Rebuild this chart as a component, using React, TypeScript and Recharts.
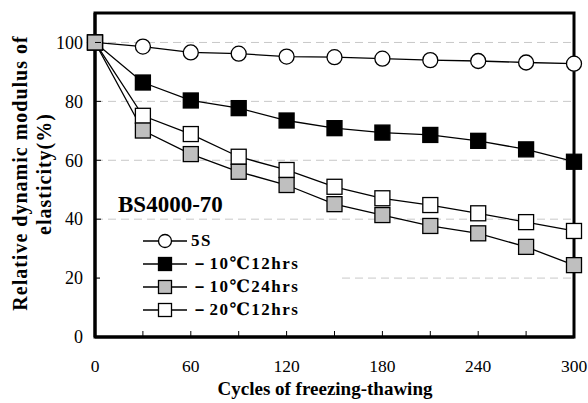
import { LineChart, Line, XAxis, YAxis, CartesianGrid, Legend, ReferenceArea } from 'recharts';

const cycles = [0, 30, 60, 90, 120, 150, 180, 210, 240, 270, 300];
const s5 = [100, 98.6, 96.6, 96.2, 95.2, 95.0, 94.5, 94.0, 93.7, 93.2, 92.8];
const m10h12 = [100, 86.4, 80.3, 77.7, 73.5, 70.9, 69.4, 68.6, 66.6, 63.7, 59.5];
const m20h12 = [100, 75.1, 68.9, 61.2, 56.7, 51.0, 47.1, 44.8, 42.0, 39.0, 36.0];
const m10h24 = [100, 70.1, 62.1, 56.1, 51.6, 45.1, 41.4, 37.7, 35.2, 30.6, 24.4];

const xTicks = [0, 30, 60, 90, 120, 150, 180, 210, 240, 270, 300];
const xLabelled = [0, 60, 120, 180, 240, 300];
const yTicks = [0, 20, 40, 60, 80, 100];
const gridValues = [20, 40, 60, 80, 100];

const FONT = 'Liberation Serif, DejaVu Serif, serif';

const series = [
  { key: 's5', name: '5S', shape: 'circle', fill: '#fff' },
  { key: 'm10h12', name: '－10℃12hrs', shape: 'square', fill: '#000' },
  { key: 'm10h24', name: '－10℃24hrs', shape: 'square', fill: '#bfbfbf' },
  { key: 'm20h12', name: '－20℃12hrs', shape: 'square', fill: '#fff' },
];
// grey squares are drawn over the white ones
const drawOrder = ['s5', 'm10h12', 'm20h12', 'm10h24'];

const data = cycles.map((c, i) => ({
  cycle: c,
  s5: s5[i],
  m10h12: m10h12[i],
  m10h24: m10h24[i],
  m20h12: m20h12[i],
}));

function Marker({ cx, cy, shape, fill, size = 15 }: any) {
  if (cx == null || cy == null) return null;
  if (shape === 'circle') {
    return <circle cx={cx} cy={cy} r={size / 2} fill={fill} stroke="#000" strokeWidth={1.3} />;
  }
  return (
    <rect x={cx - size / 2} y={cy - size / 2} width={size} height={size} fill={fill} stroke="#000" strokeWidth={1.3} />
  );
}

const YTick = (props: any) => {
  const { x, y, payload } = props;
  return (
    <g>
      <line x1={x} x2={x + 6} y1={y} y2={y} stroke="#000" strokeWidth={1} />
      <text x={x - 12} y={y} dy="0.35em" textAnchor="end" fontSize={18} style={{ fontFamily: FONT }} fill="#000">
        {payload.value}
      </text>
    </g>
  );
};

const XTick = (props: any) => {
  const { x, y, payload } = props;
  return (
    <g>
      <line x1={x} x2={x} y1={y - 6} y2={y} stroke="#000" strokeWidth={1} />
      {xLabelled.includes(payload.value) && (
        <text x={x} y={y + 29} dy="0.35em" textAnchor="middle" fontSize={17.5} style={{ fontFamily: FONT }} fill="#000">
          {payload.value}
        </text>
      )}
    </g>
  );
};

const renderLegend = () => (
  <div style={{ fontFamily: FONT, fontWeight: 'bold', color: '#000' }}>
    <div style={{ fontSize: 23, lineHeight: '26px', marginLeft: 18 }}>BS4000-70</div>
    <div style={{ background: '#fff', marginTop: 11, padding: '0 0 5px 0' }}>
      {series.map((s) => (
        <div key={s.key} style={{ display: 'flex', alignItems: 'center', height: 23 }}>
          <svg width={44} height={18} style={{ marginLeft: 43, flex: 'none' }}>
            <line x1={0} x2={44} y1={9} y2={9} stroke="#000" strokeWidth={1.3} />
            <Marker cx={22} cy={9} shape={s.shape} fill={s.fill} size={13} />
          </svg>
          <span style={{ fontSize: 17, letterSpacing: 1.5, marginLeft: 4, whiteSpace: 'nowrap' }}>{s.name}</span>
        </div>
      ))}
    </div>
  </div>
);

export default function App() {
  return (
    <div
      style={{ position: 'absolute', left: 0, top: 0, width: 588, height: 403, background: '#fff', fontFamily: FONT }}
    >
      <LineChart width={588} height={403} data={data} margin={{ top: 13, right: 14, bottom: 0, left: 0 }}>
        <CartesianGrid
          vertical={false}
          horizontalValues={gridValues}
          strokeDasharray="8 5"
          stroke="#c8c8c8"
          yAxisId="left"
        />
        <XAxis
          dataKey="cycle"
          type="number"
          domain={[0, 300]}
          ticks={xTicks}
          interval={0}
          height={66}
          tickSize={0}
          tickMargin={0}
          tickLine={false}
          tick={<XTick />}
          axisLine={{ stroke: '#000', strokeWidth: 3 }}
        />
        <YAxis
          yAxisId="left"
          type="number"
          domain={[0, 110]}
          ticks={yTicks}
          interval={0}
          width={95}
          tickSize={0}
          tickMargin={0}
          tickLine={false}
          tick={<YTick />}
          axisLine={{ stroke: '#000', strokeWidth: 3 }}
        />
        <ReferenceArea
          yAxisId="left"
          x1={0}
          x2={300}
          y1={0}
          y2={110}
          fill="none"
          fillOpacity={0}
          stroke="#000"
          strokeWidth={3}
          ifOverflow="visible"
        />
        <Legend
          layout="vertical"
          align="center"
          verticalAlign="middle"
          content={renderLegend}
          wrapperStyle={{ position: 'absolute', left: 100, top: 192, width: 238 }}
        />
        {drawOrder.map((k) => {
          const s = series.find((x) => x.key === k)!;
          return (
            <Line
              key={k}
              yAxisId="left"
              dataKey={k}
              name={s.name}
              type="linear"
              stroke="#000"
              strokeWidth={1.3}
              isAnimationActive={false}
              dot={(p: any) => <Marker key={`${k}-${p.index}`} cx={p.cx} cy={p.cy} shape={s.shape} fill={s.fill} />}
              activeDot={false}
            />
          );
        })}
      </LineChart>
      <svg width={588} height={403} style={{ position: 'absolute', left: 0, top: 0, pointerEvents: 'none' }}>
        <g style={{ fontFamily: FONT, fontWeight: 'bold' }}>
          <text transform="translate(27 173) rotate(-90)" textAnchor="middle" fontSize={20} letterSpacing={1}>
            Relative dynamic modulus of
          </text>
          <text transform="translate(51 174) rotate(-90)" textAnchor="middle" fontSize={20} letterSpacing={1}>
            elasticity(%)
          </text>
          <text x={325} y={395} textAnchor="middle" fontSize={19}>
            Cycles of freezing-thawing
          </text>
        </g>
      </svg>
    </div>
  );
}
